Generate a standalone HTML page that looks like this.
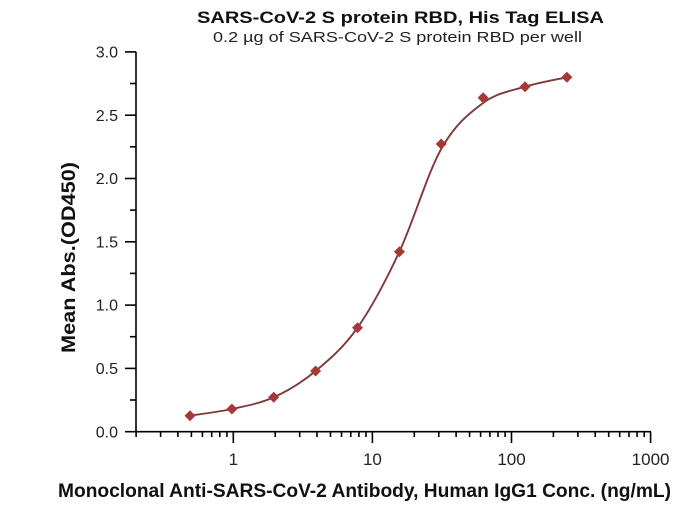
<!DOCTYPE html>
<html>
<head>
<meta charset="utf-8">
<style>
html,body{margin:0;padding:0;background:#fff;}
svg{display:block;}
text{font-family:"Liberation Sans", sans-serif;}
</style>
</head>
<body>
<svg width="673" height="510" viewBox="0 0 673 510" xmlns="http://www.w3.org/2000/svg">
<rect width="673" height="510" fill="#fff"/>
<text x="197" y="23" font-size="17" font-weight="bold" fill="#111" textLength="407" lengthAdjust="spacingAndGlyphs">SARS-CoV-2 S protein RBD, His Tag ELISA</text>
<text x="213" y="42" font-size="15" fill="#222" textLength="369" lengthAdjust="spacingAndGlyphs">0.2 µg of SARS-CoV-2 S protein RBD per well</text>
<g stroke="#000" stroke-width="1.6" fill="none">
<line x1="136" y1="51.7" x2="136" y2="432.5"/>
<line x1="135.2" y1="431.7" x2="651" y2="431.7"/>
<line x1="125" y1="431.7" x2="136" y2="431.7"/>
<line x1="125" y1="368.4" x2="136" y2="368.4"/>
<line x1="125" y1="305.1" x2="136" y2="305.1"/>
<line x1="125" y1="241.8" x2="136" y2="241.8"/>
<line x1="125" y1="178.5" x2="136" y2="178.5"/>
<line x1="125" y1="115.2" x2="136" y2="115.2"/>
<line x1="125" y1="51.9" x2="136" y2="51.9"/>
<line x1="130" y1="400.0" x2="136" y2="400.0"/>
<line x1="130" y1="336.7" x2="136" y2="336.7"/>
<line x1="130" y1="273.4" x2="136" y2="273.4"/>
<line x1="130" y1="210.1" x2="136" y2="210.1"/>
<line x1="130" y1="146.8" x2="136" y2="146.8"/>
<line x1="130" y1="83.5" x2="136" y2="83.5"/>
<line x1="233.3" y1="431.7" x2="233.3" y2="443"/>
<line x1="372.4" y1="431.7" x2="372.4" y2="443"/>
<line x1="511.5" y1="431.7" x2="511.5" y2="443"/>
<line x1="650.6" y1="431.7" x2="650.6" y2="443"/>
<path d="M136.1,431.7V437 M160.6,431.7V437 M177.9,431.7V437 M191.4,431.7V437 M202.4,431.7V437 M211.7,431.7V437 M219.8,431.7V437 M226.9,431.7V437
M275.2,431.7V437 M299.7,431.7V437 M317.0,431.7V437 M330.5,431.7V437 M341.5,431.7V437 M350.8,431.7V437 M358.9,431.7V437 M366.0,431.7V437
M414.3,431.7V437 M438.8,431.7V437 M456.1,431.7V437 M469.6,431.7V437 M480.6,431.7V437 M489.9,431.7V437 M498.0,431.7V437 M505.1,431.7V437
M553.4,431.7V437 M577.9,431.7V437 M595.2,431.7V437 M608.7,431.7V437 M619.7,431.7V437 M629.0,431.7V437 M637.1,431.7V437 M644.2,431.7V437"/>
</g>
<g font-size="16" fill="#222" text-anchor="end">
<text x="118" y="437.3">0.0</text>
<text x="118" y="374">0.5</text>
<text x="118" y="310.7">1.0</text>
<text x="118" y="247.4">1.5</text>
<text x="118" y="184.1">2.0</text>
<text x="118" y="120.8">2.5</text>
<text x="118" y="57.5">3.0</text>
</g>
<g font-size="17" fill="#222" text-anchor="middle">
<text x="233.3" y="465">1</text>
<text x="372.4" y="465">10</text>
<text x="511.5" y="465">100</text>
<text x="650.6" y="465">1000</text>
</g>
<text x="58" y="497" font-size="19" font-weight="bold" fill="#111" textLength="613" lengthAdjust="spacingAndGlyphs">Monoclonal Anti-SARS-CoV-2 Antibody, Human IgG1 Conc. (ng/mL)</text>
<text transform="translate(75,353) rotate(-90)" x="0" y="0" font-size="19" font-weight="bold" fill="#111" textLength="191" lengthAdjust="spacingAndGlyphs">Mean Abs.(OD450)</text>
<path d="M190.0,415.7 C197.0,414.6 217.95,412.07 231.9,409.0 C245.85,405.93 259.75,403.63 273.7,397.3 C287.65,390.97 301.63,382.6 315.6,371.0 C329.57,359.4 343.53,347.58 357.5,327.7 C371.47,307.82 385.45,281.48 399.4,251.7 C413.35,221.92 427.25,173.78 441.2,149.0 C455.15,124.22 469.13,113.38 483.1,103.0 C497.07,92.62 511.03,90.98 525.0,86.7 C538.97,82.42 559.92,78.87 566.9,77.3" fill="none" stroke="#7e3a3a" stroke-width="1.9"/>
<g fill="#a83838">
<polygon points="190.0,410.2 195.5,415.7 190.0,421.2 184.5,415.7"/>
<polygon points="231.9,403.5 237.4,409.0 231.9,414.5 226.4,409.0"/>
<polygon points="273.7,391.8 279.2,397.3 273.7,402.8 268.2,397.3"/>
<polygon points="315.6,365.5 321.1,371.0 315.6,376.5 310.1,371.0"/>
<polygon points="357.5,322.2 363.0,327.7 357.5,333.2 352.0,327.7"/>
<polygon points="399.4,246.2 404.9,251.7 399.4,257.2 393.9,251.7"/>
<polygon points="441.2,138.5 446.7,144.0 441.2,149.5 435.7,144.0"/>
<polygon points="483.1,92.2 488.6,97.7 483.1,103.2 477.6,97.7"/>
<polygon points="525.0,81.2 530.5,86.7 525.0,92.2 519.5,86.7"/>
<polygon points="566.9,71.8 572.4,77.3 566.9,82.8 561.4,77.3"/>
</g>
</svg>
</body>
</html>
